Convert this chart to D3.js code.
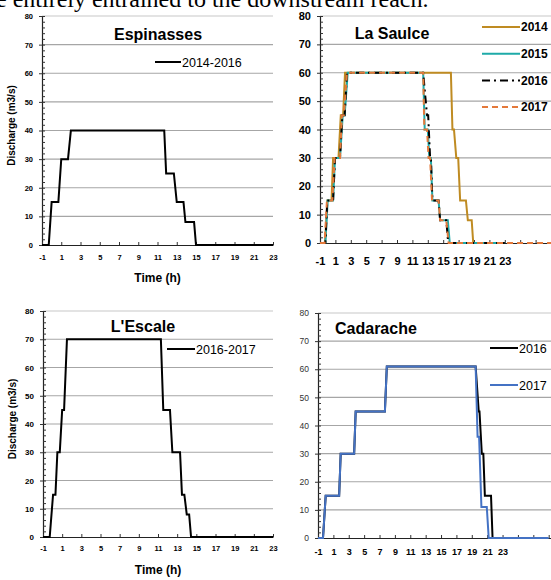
<!DOCTYPE html>
<head>
    <title>Discharge hydrographs</title>
    <meta charset="utf-8">
    <style>
        body { margin: 0; background: #fff; }
        svg { display: block; font-family: "Liberation Sans", Arial, sans-serif; }
        .domain { stroke: #222; }
    </style>
</head>

<body>
<div id="chart"></div>

<script src="https://d3js.org/d3.v7.min.js"></script>

<script>

// ---- data (hours, m3/s) ----
var yTicks = [0, 10, 20, 30, 40, 50, 60, 70, 80];
var xTickLabels = [-1, 1, 3, 5, 7, 9, 11, 13, 15, 17, 19, 21, 23];

var espinassesTime = [-1, -0.3, 0, 0.7, 1, 1.7, 2, 11.7, 11.9, 12.7, 13, 13.7, 13.9, 14.8, 15, 23];
var espinassesQ    = [0, 0, 15, 15, 30, 30, 40, 40, 25, 25, 15, 15, 8, 8, 0, 0];

var saulce2014Time = [-1, -0.35, -0.05, 0.5, 0.7, 1.4, 1.7, 2.0, 2.25, 16.0, 16.2, 16.4, 16.7, 16.95, 17.2, 17.95, 18.2, 18.7, 18.9, 23];
var saulce2014Q    = [0, 0, 15, 15, 30, 30, 45, 45, 60, 60, 40, 40, 30, 30, 15, 15, 8, 8, 0, 0];
var saulce2015Time = [-1, -0.3, 0.0, 0.7, 0.95, 1.6, 1.95, 2.2, 2.6, 12.4, 12.6, 13.0, 13.2, 13.4, 13.6, 14.4, 14.6, 15.6, 15.85, 23];
var saulce2015Q    = [0, 0, 15, 15, 30, 30, 45, 45, 60, 60, 40, 40, 30, 30, 15, 15, 8, 8, 0, 0];
var saulce2016Time = [-1, -0.3, -0.05, 0.7, 0.95, 1.6, 1.9, 2.2, 2.5, 12.4, 12.9, 13.05, 13.3, 13.4, 13.6, 14.4, 14.6, 15.4, 15.65, 23];
var saulce2016Q    = [0, 0, 15, 15, 30, 30, 45, 45, 60, 60, 45, 45, 30, 30, 15, 15, 8, 8, 0, 0];
var saulce2017Time = [-1, -0.4, -0.1, 0.6, 0.9, 1.6, 1.85, 2.1, 2.5, 12.4, 12.55, 12.9, 13.1, 13.3, 13.55, 14.4, 14.6, 15.4, 15.7, 29];
var saulce2017Q    = [0, 0, 15, 15, 30, 30, 45, 45, 60, 60, 40, 40, 30, 30, 15, 15, 8, 8, 0, 0];

var escaleTime = [-1, -0.3, 0.05, 0.3, 0.5, 0.75, 1.0, 1.2, 1.5, 11.3, 11.55, 12.25, 12.5, 13.3, 13.5, 13.75, 14.0, 14.25, 14.45, 23];
var escaleQ    = [0, 0, 15, 15, 30, 30, 45, 45, 70, 70, 45, 45, 30, 30, 15, 15, 8, 8, 0, 0];

var cadarache2016Time = [-1, -0.35, 0, 1.75, 1.95, 3.7, 3.9, 7.7, 7.95, 19.5, 19.9, 20.0, 20.3, 20.5, 20.7, 21.5, 21.7, 23];
var cadarache2016Q    = [0, 0, 15, 15, 30, 30, 45, 45, 61, 61, 45, 45, 30, 30, 15, 15, 0, 0];
var cadarache2017Time = [-1, -0.35, 0, 1.75, 1.95, 3.7, 3.9, 7.7, 7.95, 19.5, 19.75, 19.95, 20.25, 20.95, 21.2, 29];
var cadarache2017Q    = [0, 0, 15, 15, 30, 30, 45, 45, 61, 61, 36, 36, 11, 11, 0, 0];

function pts(t, q) { return t.map(function(d, i) { return [d, q[i]]; }); }

var svg = d3.select("#chart").append("svg")
    .attr("width", 551)
    .attr("height", 580);

// sentence from the page above the figure, cropped by the frame as in the original
svg.append("text")
    .attr("x", -4).attr("y", 7)
    .attr("font-family", "Liberation Serif, serif")
    .attr("font-size", 24)
    .text("e entirely entrained to the downstream reach.");

var panels = [
    { title: "Espinasses", left: 42, right: 273, top: 16, bottom: 245, xMax: 23,
      titleX: 158, titleY: 40, titleAnchor: "middle", titleSize: 16,
      yFont: 7.5, yBold: true, xFont: 7.5, xLabelDy: 16,
      yTitle: true, xTitle: true,
      series: [{ name: "2014-2016", data: pts(espinassesTime, espinassesQ), color: "#000", dash: null }],
      legend: { x: 155, y: 62, dy: 0, len: 26, size: 12.5, bold: false } },
    { title: "La Saulce", left: 320, right: 551, top: 16, bottom: 243, xMax: 29,
      titleX: 392, titleY: 39, titleAnchor: "middle", titleSize: 16,
      yFont: 11, yBold: true, xFont: 11, xLabelDy: 20,
      yTitle: false, xTitle: false,
      series: [
        { name: "2014", data: pts(saulce2014Time, saulce2014Q), color: "#bf8b22", dash: null },
        { name: "2015", data: pts(saulce2015Time, saulce2015Q), color: "#1eaaa8", dash: null },
        { name: "2016", data: pts(saulce2016Time, saulce2016Q), color: "#000", dash: "8,4,2,4" },
        { name: "2017", data: pts(saulce2017Time, saulce2017Q), color: "#e4793a", dash: "6,4" }
      ],
      legend: { x: 482, y: 27, dy: 26.7, len: 38, size: 12, bold: true } },
    { title: "L'Escale", left: 43, right: 273, top: 311, bottom: 537, xMax: 23,
      titleX: 143, titleY: 332, titleAnchor: "middle", titleSize: 16,
      yFont: 8, yBold: true, xFont: 7.5, xLabelDy: 15,
      yTitle: true, xTitle: true,
      series: [{ name: "2016-2017", data: pts(escaleTime, escaleQ), color: "#000", dash: null }],
      legend: { x: 167, y: 349, dy: 0, len: 28, size: 12.5, bold: false } },
    { title: "Cadarache", left: 318, right: 551, top: 313, bottom: 538, xMax: 29.3,
      titleX: 335, titleY: 334, titleAnchor: "start", titleSize: 16,
      yFont: 8.5, yBold: false, xFont: 9, xLabelDy: 17,
      yTitle: false, xTitle: false,
      series: [
        { name: "2016", data: pts(cadarache2016Time, cadarache2016Q), color: "#000", dash: null },
        { name: "2017", data: pts(cadarache2017Time, cadarache2017Q), color: "#4472c4", dash: null }
      ],
      legend: { x: 490, y: 348, dy: 37, len: 28, size: 12.5, bold: false } }
];

panels.forEach(drawPanel);

function drawPanel(p) {
    var x = d3.scaleLinear().domain([-1, p.xMax]).range([p.left, p.right]);
    var y = d3.scaleLinear().domain([0, 80]).range([p.bottom, p.top]);
    var g = svg.append("g");

    // gridlines
    g.selectAll(".grid").data(yTicks.slice(1))
        .enter().append("line")
        .attr("x1", p.left).attr("x2", p.right)
        .attr("y1", function(d) { return y(d); })
        .attr("y2", function(d) { return y(d); })
        .attr("stroke", function(d) { return d === 80 ? "#c8c8c8" : "#a6a6a6"; })
        .attr("stroke-width", 1.2);

    // y axis: major ticks crossing, minor ticks inside
    var yAxis = g.append("g")
        .attr("transform", "translate(" + p.left + ",0)")
        .call(d3.axisLeft(y).tickValues(yTicks).tickSize(3).tickPadding(6));
    yAxis.selectAll("text")
        .attr("font-size", p.yFont)
        .attr("font-weight", p.yBold ? "bold" : "normal")
        .attr("fill", p.yBold ? "#000" : "#333");
    g.append("g")
        .attr("transform", "translate(" + p.left + ",0)")
        .call(d3.axisRight(y).tickValues(d3.range(0, 81, 2)).tickSize(3).tickFormat(""))
        .select(".domain").remove();

    // x axis
    var xTicks = d3.range(-1, p.xMax + 0.01, 2);
    var xAxis = g.append("g")
        .attr("transform", "translate(0," + p.bottom + ")")
        .call(d3.axisBottom(x).tickValues(xTicks).tickSize(-3).tickSizeOuter(0)
            .tickFormat(function(d) { return xTickLabels.indexOf(d) >= 0 ? d : ""; }));
    xAxis.selectAll("text")
        .attr("y", p.xLabelDy - 6)
        .attr("font-size", p.xFont)
        .attr("font-weight", "bold")
        .attr("fill", "#000");
    g.selectAll(".domain").attr("stroke", "#333").attr("stroke-width", 1.2);
    g.selectAll(".tick line").attr("stroke", "#333");

    // series
    var line = d3.line()
        .x(function(d) { return x(d[0]); })
        .y(function(d) { return y(d[1]); });
    p.series.forEach(function(s) {
        g.append("path")
            .attr("d", line(s.data))
            .attr("fill", "none")
            .attr("stroke", s.color)
            .attr("stroke-width", 2)
            .attr("stroke-dasharray", s.dash);
    });

    // title
    g.append("text")
        .attr("x", p.titleX).attr("y", p.titleY)
        .attr("text-anchor", p.titleAnchor)
        .attr("font-size", p.titleSize)
        .attr("font-weight", "bold")
        .text(p.title);

    // legend
    p.series.forEach(function(s, i) {
        var ly = p.legend.y + i * p.legend.dy;
        g.append("line")
            .attr("x1", p.legend.x).attr("x2", p.legend.x + p.legend.len)
            .attr("y1", ly).attr("y2", ly)
            .attr("stroke", s.color)
            .attr("stroke-width", 2)
            .attr("stroke-dasharray", s.dash);
        g.append("text")
            .attr("x", p.legend.x + p.legend.len + 1)
            .attr("y", ly + p.legend.size * 0.36)
            .attr("font-size", p.legend.size)
            .attr("font-weight", p.legend.bold ? "bold" : "normal")
            .text(s.name);
    });

    // axis titles
    if (p.yTitle) {
        g.append("text")
            .attr("transform", "translate(" + (p.left - 27) + "," + ((p.top + p.bottom) / 2 - 5) + ") rotate(-90)")
            .attr("text-anchor", "middle")
            .attr("font-size", 10)
            .attr("font-weight", "bold")
            .text("Discharge (m3/s)");
    }
    if (p.xTitle) {
        g.append("text")
            .attr("x", (p.left + p.right) / 2)
            .attr("y", p.bottom + 37)
            .attr("text-anchor", "middle")
            .attr("font-size", 12)
            .attr("font-weight", "bold")
            .text("Time (h)");
    }
}

</script>

</body>
</html>
